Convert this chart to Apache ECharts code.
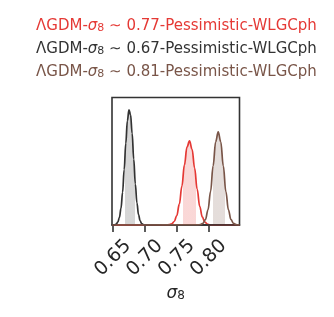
<!DOCTYPE html>
<html><head><meta charset="utf-8">
<script src="https://cdn.jsdelivr.net/npm/echarts@6/dist/echarts.min.js"></script>
<style>html,body{margin:0;padding:0;background:#fff}#c{width:334px;height:317px}</style>
</head><body><div id="c"></div>
<script>
const seriesNames = [
  'ΛGDM-σ8 ∼ 0.77-Pessimistic-WLGCph',
  'ΛGDM-σ8 ∼ 0.67-Pessimistic-WLGCph',
  'ΛGDM-σ8 ∼ 0.81-Pessimistic-WLGCph'
];
const lineColors = ['#e53935', '#333333', '#795548'];
const fillColors = ['rgba(229,57,53,0.2)', 'rgba(51,51,51,0.2)', 'rgba(121,85,72,0.2)'];

const redX = [0.6484,0.734,0.738,0.742,0.746,0.750,0.754,0.758,0.762,0.766,0.770,0.774,0.778,0.782,0.786,0.790,0.794,0.798,0.802,0.806,0.8484];
const redY = [0,0.0005,0.0025,0.0095,0.0303,0.081,0.180,0.335,0.520,0.674,0.728,0.656,0.493,0.309,0.162,0.0707,0.0258,0.0078,0.0020,0.0004,0];

const blackX = [0.6484,0.650,0.6525,0.655,0.6575,0.660,0.6625,0.665,0.6675,0.670,0.6725,0.675,0.6775,0.680,0.6825,0.685,0.6875,0.690,0.6925,0.695,0.6975,0.700,0.8484];
const blackY = [0,0.0006,0.0023,0.0081,0.0243,0.0635,0.1437,0.282,0.480,0.707,0.902,0.997,0.955,0.793,0.570,0.355,0.1915,0.0895,0.0362,0.0127,0.0039,0.001,0];

const brownX = [0.6484,0.783,0.787,0.791,0.795,0.799,0.803,0.807,0.811,0.815,0.819,0.823,0.827,0.831,0.835,0.839,0.843,0.847,0.8484];
const brownY = [0,0.0006,0.0031,0.0136,0.0474,0.1314,0.290,0.512,0.720,0.806,0.720,0.512,0.290,0.1314,0.0474,0.0136,0.0031,0.0006,0];

const bands = [[0.7594, 0.7802], [0.6688, 0.6844], [0.8063, 0.8255]];
const xTicks = [0.65, 0.70, 0.75, 0.80];
const xMin = 0.6484, xMax = 0.8484;

const curves = [[redX, redY], [blackX, blackY], [brownX, brownY]];
const zip = (xs, ys) => xs.map((x, i) => [x, ys[i]]);
const FONT = 'DejaVu Sans';

const areaSeries = curves.map((c, i) => ({
  type: 'line', name: 'band' + i, data: zip(c[0], c[1]), smooth: 0.4, smoothMonotone: 'x',
  showSymbol: false, symbol: 'none', silent: true,
  lineStyle: { width: 0, opacity: 0 }, areaStyle: { opacity: 1 }, z: 1
}));
const lineSeries = curves.map((c, i) => ({
  type: 'line', name: seriesNames[i], data: zip(c[0], c[1]), smooth: 0.4, smoothMonotone: 'x',
  showSymbol: false, symbol: 'none', color: lineColors[i],
  lineStyle: { width: 1.7, color: lineColors[i] }, z: 3
}));

const richFor = (color, size) => ({
  n: { fontFamily: FONT, fontSize: size, color: color, lineHeight: 18, verticalAlign: 'bottom' },
  i: { fontFamily: FONT, fontSize: size, fontStyle: 'italic', color: color, lineHeight: 18, verticalAlign: 'bottom' },
  s: { fontFamily: FONT, fontSize: Math.round(size * 0.7), color: color, lineHeight: 13, verticalAlign: 'bottom' }
});
const toRich = (name) => {
  const parts = name.split('σ8');
  return '{n|' + parts[0] + '}{i|σ}{s|8}{n|' + parts[1] + '}';
};

const chart = echarts.init(document.getElementById('c'), null, { renderer: 'canvas' });
chart.setOption({
  animation: false,
  backgroundColor: '#fff',
  legend: {
    orient: 'vertical', left: 26, top: 14, itemGap: 8,
    itemWidth: 0, itemHeight: 0, icon: 'none', selectedMode: false,
    formatter: toRich,
    data: seriesNames.map((n, i) => ({ name: n, textStyle: { color: lineColors[i], fontSize: 15, fontFamily: FONT, rich: richFor(lineColors[i], 15) } }))
  },
  grid: { left: 112, top: 97.5, width: 127.5, height: 127.5, show: true, borderColor: '#333', borderWidth: 1.6, backgroundColor: 'transparent' },
  visualMap: bands.map((b, i) => ({
    type: 'piecewise', show: false, seriesIndex: i, dimension: 0,
    pieces: [{ gte: b[0], lte: b[1], color: fillColors[i] }],
    outOfRange: { color: 'rgba(0,0,0,0)' }
  })),
  xAxis: {
    type: 'value', min: xMin, max: xMax,
    name: '{i|σ}{s|8}', nameLocation: 'middle', nameGap: 55,
    nameTextStyle: { rich: {
      i: { fontFamily: FONT, fontSize: 17, fontStyle: 'italic', color: '#262626', lineHeight: 22, verticalAlign: 'bottom' },
      s: { fontFamily: FONT, fontSize: 12, color: '#262626', lineHeight: 15, verticalAlign: 'bottom' } } },
    axisLine: { show: true, lineStyle: { color: '#333', width: 1.6 } },
    axisTick: { show: true, length: 7, customValues: xTicks, lineStyle: { color: '#333', width: 1.6 } },
    axisLabel: { customValues: xTicks, rotate: 45, margin: 33, align: 'center', verticalAlign: 'middle',
      fontSize: 19, fontFamily: FONT, color: '#262626', hideOverlap: false,
      formatter: v => v.toFixed(2) },
    splitLine: { show: false }
  },
  yAxis: { type: 'value', min: 0, max: 1.104, show: false, splitLine: { show: false } },
  series: areaSeries.concat(lineSeries)
});
</script></body></html>
